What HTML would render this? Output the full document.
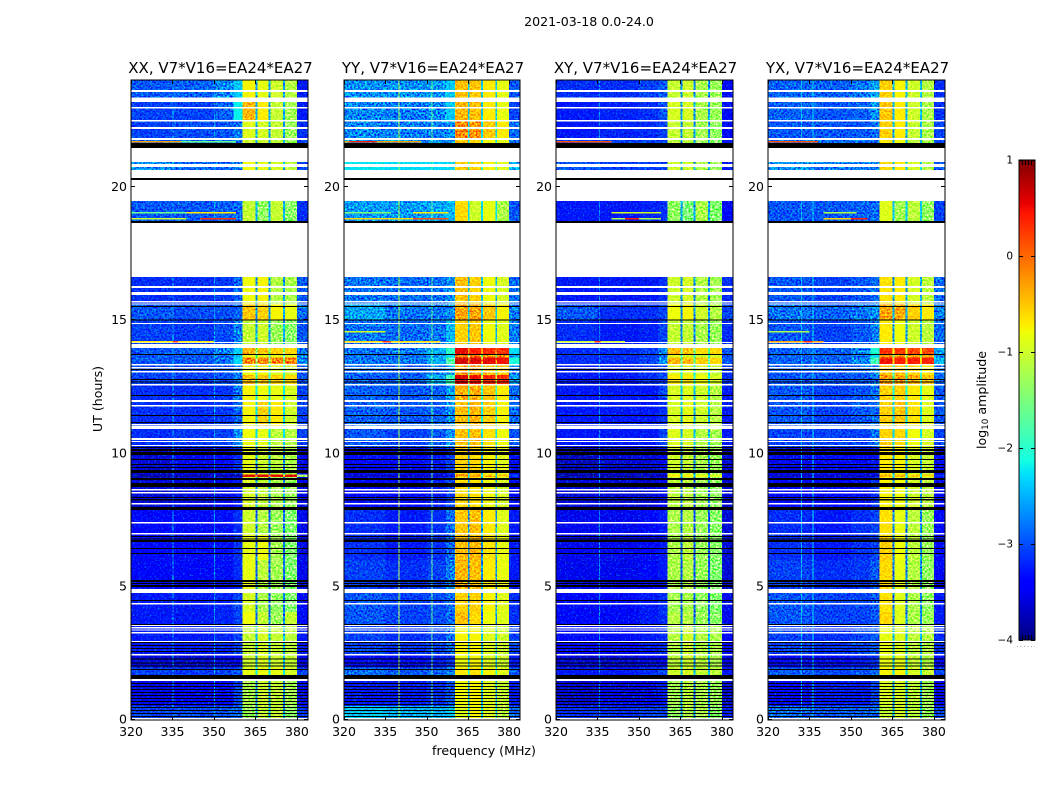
<!DOCTYPE html>
<html>
<head>
<meta charset="utf-8">
<title>2021-03-18 dynamic spectra</title>
<style>
html,body{margin:0;padding:0;background:#fff;}
svg{display:block;}
text{font-family:"DejaVu Sans","Liberation Sans",sans-serif;fill:#000;}
</style>
</head>
<body>
<svg id="chart" xmlns="http://www.w3.org/2000/svg" width="1050" height="800" viewBox="0 0 1050 800">
<defs>
<filter id="grain" x="0" y="0" width="100%" height="100%" color-interpolation-filters="sRGB">
<feTurbulence type="fractalNoise" baseFrequency="0.55" numOctaves="1" seed="7"/>
<feColorMatrix type="matrix" values="2.4 0 0 0 -0.7  2.4 0 0 0 -0.7  2.4 0 0 0 -0.7  0 0 0 0 1"/>
</filter>
<filter id="grain-lift" x="0" y="0" width="100%" height="100%" color-interpolation-filters="sRGB">
<feTurbulence type="fractalNoise" baseFrequency="0.6" numOctaves="1" seed="19"/>
<feColorMatrix type="matrix" values="0 0 0 0 0  1.6 0 0 0 -0.85  0 0 0 0 0  0 0 0 0 1"/>
</filter>
<filter id="grain-dim" x="0" y="0" width="100%" height="100%" color-interpolation-filters="sRGB">
<feTurbulence type="fractalNoise" baseFrequency="0.6" numOctaves="1" seed="31"/>
<feColorMatrix type="matrix" values="0 0 0 0 1  0 0 0 0 1  2.5 0 0 0 0  0 0 0 0 1"/>
</filter>
</defs>
<rect x="0" y="0" width="1050" height="800" fill="#fff"/>
<text x="589" y="26" font-size="12.6" text-anchor="middle">2021-03-18 0.0-24.0</text>
<text x="484" y="755" font-size="12.6" text-anchor="middle">frequency (MHz)</text>
<text x="0" y="0" font-size="12.6" text-anchor="middle" transform="translate(102,399) rotate(-90)">UT (hours)</text>
<text x="0" y="0" font-size="12.6" text-anchor="middle" transform="translate(986,400) rotate(-90)">log<tspan font-size="8.8" dy="2">10</tspan><tspan dy="-2"> amplitude</tspan></text>
<g id="panels"></g>
<g id="colorbar"></g>
</svg>
<script>
// Axis tick labels
const freqTicks = [320, 335, 350, 365, 380];
const utTicks = [0, 5, 10, 15, 20];
const colorTicks = [1, 0, -1, -2, -3, -4];

// Panel titles
const panelTitles = ['XX, V7*V16=EA24*EA27', 'YY, V7*V16=EA24*EA27', 'XY, V7*V16=EA24*EA27', 'YX, V7*V16=EA24*EA27'];

// Frequency columns (MHz)
const columnStart = [320, 335, 350, 357, 360.4, 365.7, 370.5, 375.6];
const columnEnd = [335, 350, 357, 360.4, 365, 369.8, 375, 380];
const notchStart = [365, 369.8, 375];
const notchEnd = [365.7, 370.5, 375.6];
const outerBand = [380, 384];

// Time blocks (hours UT)
const utBlockTop = [24, 23.19, 22.52, 21.84, 20.94, 19.47, 16.62, 15.6, 15, 13.95, 13.7, 13.6, 13.35, 12.94, 12.6, 12, 10.91, 10.2, 9.2, 9.1, 7.87, 6.93, 6, 4.75, 4.04, 3.55, 2.42, 1.95, 1.45, 0.51];
const utBlockBottom = [23.36, 22.52, 21.84, 21.46, 20.64, 18.65, 15.6, 15, 14.1, 13.7, 13.6, 13.35, 12.94, 12.6, 12, 11.02, 10.2, 9.2, 9.1, 7.87, 6.93, 6, 4.9, 4.04, 3.55, 2.42, 1.95, 1.52, 0.51, 0];

// log10 amplitude per time block: 8 columns, then notch, then outer band
const xxLevels = [
[-3.0,-2.95,-2.75,-2.4,-0.75,-0.85,-1.0,-1.15,-2.6,-3.3],
[-3.1,-3.1,-2.95,-2.2,-0.4,-0.7,-1.05,-1.25,-2.5,-3.3],
[-3.1,-3.05,-3.0,-2.85,-0.9,-0.95,-1.05,-1.3,-2.6,-3.2],
[-2.9,-2.9,-2.9,-2.9,-1.0,-1.0,-1.1,-1.3,-2.6,-3.1],
[-2.7,-2.9,-2.9,-2.8,-0.8,-0.85,-0.95,-1.1,-2.5,-3.1],
[-3.0,-3.0,-2.95,-2.9,-1.05,-1.35,-1.05,-1.4,-2.5,-3.2],
[-3.2,-3.2,-3.15,-2.95,-0.8,-0.75,-1.15,-1.2,-2.7,-3.0],
[-3.0,-3.05,-3.05,-2.95,-0.5,-0.55,-0.75,-0.85,-2.6,-2.9],
[-3.1,-3.15,-3.05,-2.8,-1.05,-1.0,-1.3,-1.4,-2.6,-3.0],
[-3.0,-2.95,-2.8,-2.4,-0.4,-0.5,-0.55,-0.6,-1.5,-2.8],
[-3.0,-3.0,-2.85,-2.5,-0.8,-0.8,-0.85,-0.9,-1.8,-2.8],
[-3.0,-3.0,-2.85,-2.3,-0.15,-0.15,-0.15,-0.1,-1.4,-2.7],
[-3.1,-3.1,-3.0,-2.85,-0.8,-0.75,-0.9,-1.0,-2.0,-3.0],
[-3.1,-3.1,-3.05,-2.85,-0.45,-0.5,-0.55,-0.6,-1.9,-3.0],
[-3.2,-3.2,-3.15,-2.85,-0.75,-0.8,-0.85,-0.95,-2.2,-3.1],
[-3.2,-3.2,-3.15,-2.95,-0.75,-0.55,-0.7,-1.0,-2.3,-3.1],
[-3.2,-3.15,-3.1,-2.75,-0.8,-0.85,-1.1,-1.15,-2.3,-3.1],
[-3.6,-3.5,-3.45,-3.2,-0.85,-1.0,-1.1,-1.2,-2.7,-3.5],
[-3.8,-3.8,-3.8,-3.8,0.6,0.6,0.55,0.6,-0.3,-1.3],
[-3.6,-3.55,-3.5,-3.3,-0.95,-1.05,-1.2,-1.3,-2.7,-3.5],
[-3.4,-3.4,-3.35,-3.2,-1.0,-1.15,-1.3,-1.45,-2.9,-3.5],
[-3.4,-3.4,-3.35,-3.2,-0.85,-0.8,-1.25,-1.45,-2.9,-3.5],
[-3.4,-3.4,-3.35,-3.2,-0.85,-1.1,-1.25,-1.45,-2.9,-3.5],
[-3.3,-3.3,-3.25,-3.1,-0.95,-1.2,-1.35,-1.45,-2.9,-3.4],
[-3.3,-3.3,-3.25,-3.1,-0.8,-1.05,-1.3,-1.05,-2.8,-3.4],
[-3.3,-3.3,-3.25,-3.1,-1.05,-0.95,-1.05,-1.1,-2.5,-3.3],
[-3.6,-3.6,-3.5,-3.4,-1.0,-0.9,-1.0,-1.05,-2.5,-3.5],
[-3.1,-3.15,-3.1,-3.0,-0.85,-0.8,-0.85,-0.95,-2.2,-3.1],
[-3.5,-3.45,-3.4,-3.1,-1.2,-1.0,-1.05,-1.25,-2.7,-3.5],
[-3.1,-3.05,-3.0,-2.9,-1.3,-1.05,-1.05,-1.4,-2.6,-3.2]
];
const yyLevels = [
[-2.7,-2.7,-2.65,-2.4,-0.45,-0.5,-0.7,-0.85,-2.4,-3.0],
[-2.75,-2.8,-2.75,-2.4,-0.4,-0.45,-0.7,-0.85,-2.4,-3.1],
[-2.75,-2.8,-2.8,-2.7,-0.15,-0.2,-0.5,-0.7,-2.3,-2.9],
[-2.6,-2.7,-2.7,-2.7,-0.5,-0.6,-0.8,-0.9,-2.3,-2.8],
[-2.25,-2.3,-2.3,-2.3,-0.5,-0.55,-0.75,-0.9,-2.0,-2.6],
[-2.65,-2.65,-2.6,-2.5,-0.6,-1.0,-0.85,-1.2,-2.3,-3.0],
[-2.85,-2.9,-2.9,-2.7,-0.45,-0.55,-0.8,-0.95,-2.5,-2.9],
[-2.6,-2.85,-2.85,-2.7,-0.3,-0.3,-0.5,-0.75,-2.4,-2.8],
[-2.85,-2.9,-2.85,-2.5,-0.55,-0.5,-0.8,-0.9,-2.5,-2.8],
[-2.85,-2.8,-2.55,-2.0,0.55,0.45,0.4,0.35,-0.3,-2.3],
[-2.85,-2.85,-2.65,-2.3,-0.1,-0.1,-0.2,-0.2,-1.5,-2.6],
[-2.85,-2.85,-2.55,-1.8,0.65,0.6,0.55,0.5,-0.1,-2.1],
[-2.9,-3.0,-2.85,-2.6,-0.3,-0.3,-0.45,-0.5,-1.8,-2.8],
[-2.95,-2.95,-2.55,-1.9,0.6,0.5,0.4,0.35,-1.0,-2.6],
[-2.95,-3.0,-2.95,-2.6,-0.35,-0.35,-0.5,-0.7,-2.0,-2.9],
[-2.95,-3.0,-2.95,-2.7,-0.45,-0.4,-0.55,-0.75,-2.2,-2.9],
[-3.0,-3.1,-3.0,-2.7,-0.45,-0.45,-0.65,-0.8,-2.3,-3.0],
[-3.4,-3.4,-3.3,-3.1,-0.55,-0.6,-0.75,-0.9,-2.6,-3.4],
[-3.7,-3.7,-3.7,-3.6,-0.3,-0.3,-0.4,-0.5,-2.0,-3.1],
[-3.4,-3.4,-3.3,-3.1,-0.6,-0.65,-0.8,-0.95,-2.6,-3.4],
[-3.2,-3.3,-3.2,-2.9,-0.5,-0.45,-0.7,-0.9,-2.7,-3.3],
[-3.2,-3.3,-3.2,-2.9,-0.45,-0.4,-0.65,-0.85,-2.7,-3.3],
[-3.1,-3.2,-3.1,-2.8,-0.4,-0.45,-0.7,-0.85,-2.7,-3.3],
[-3.0,-3.1,-3.05,-2.9,-0.55,-0.55,-0.75,-0.9,-2.7,-3.2],
[-3.0,-3.1,-3.05,-2.9,-0.45,-0.6,-0.8,-0.9,-2.7,-3.2],
[-3.1,-3.2,-3.1,-2.9,-0.75,-0.75,-0.9,-1.0,-2.4,-3.1],
[-3.4,-3.4,-3.3,-3.2,-0.8,-0.75,-0.9,-1.0,-2.4,-3.3],
[-2.9,-3.0,-2.95,-2.8,-0.7,-0.65,-0.75,-0.9,-2.1,-3.0],
[-3.3,-3.3,-3.2,-3.0,-0.8,-0.75,-0.9,-1.05,-2.5,-3.3],
[-2.4,-2.5,-2.5,-2.4,-0.9,-0.75,-0.9,-1.1,-2.3,-2.9]
];
const xyLevels = [
[-3.2,-3.2,-3.1,-3.0,-1.05,-1.0,-1.2,-1.3,-2.7,-3.4],
[-3.3,-3.25,-3.2,-3.0,-0.95,-0.95,-1.2,-1.3,-2.7,-3.4],
[-3.3,-3.25,-3.2,-3.1,-1.05,-1.05,-1.25,-1.35,-2.7,-3.4],
[-3.1,-3.1,-3.1,-3.1,-1.1,-1.1,-1.3,-1.4,-2.7,-3.3],
[-3.0,-3.1,-3.1,-3.1,-1.0,-1.0,-1.2,-1.3,-2.6,-3.3],
[-3.3,-3.3,-3.25,-3.2,-1.35,-1.5,-1.2,-1.45,-2.6,-3.4],
[-3.3,-3.3,-3.3,-3.2,-1.0,-0.95,-1.15,-1.25,-2.8,-3.2],
[-3.0,-3.2,-3.2,-3.1,-0.8,-0.75,-1.0,-1.15,-2.7,-3.1],
[-3.2,-3.3,-3.25,-3.1,-1.05,-1.05,-1.2,-1.3,-2.8,-3.2],
[-3.2,-3.2,-3.1,-2.8,-0.45,-0.5,-0.6,-0.6,-1.7,-3.0],
[-3.2,-3.2,-3.1,-2.9,-0.9,-0.9,-1.0,-1.0,-2.0,-3.1],
[-3.2,-3.2,-3.1,-2.7,-0.4,-0.45,-0.55,-0.6,-1.7,-3.0],
[-3.3,-3.3,-3.2,-3.1,-0.9,-0.85,-0.95,-1.05,-2.2,-3.2],
[-3.3,-3.3,-3.2,-3.1,-0.7,-0.7,-0.8,-0.95,-2.1,-3.2],
[-3.3,-3.3,-3.3,-3.1,-0.95,-0.9,-1.0,-1.15,-2.4,-3.3],
[-3.3,-3.3,-3.3,-3.2,-0.95,-0.85,-1.0,-1.15,-2.5,-3.3],
[-3.3,-3.3,-3.3,-3.1,-0.9,-0.95,-1.15,-1.25,-2.5,-3.3],
[-3.7,-3.6,-3.6,-3.5,-1.0,-1.05,-1.2,-1.3,-2.8,-3.6],
[-3.8,-3.8,-3.8,-3.8,-0.7,-0.7,-0.8,-0.9,-2.4,-3.5],
[-3.6,-3.6,-3.6,-3.5,-1.1,-1.1,-1.25,-1.35,-2.9,-3.6],
[-3.5,-3.5,-3.4,-3.3,-1.2,-1.15,-1.3,-1.4,-3.0,-3.6],
[-3.5,-3.5,-3.4,-3.3,-1.2,-1.1,-1.3,-1.4,-3.0,-3.6],
[-3.5,-3.5,-3.4,-3.3,-1.2,-1.15,-1.3,-1.45,-3.0,-3.6],
[-3.4,-3.4,-3.3,-3.2,-1.25,-1.2,-1.35,-1.45,-3.0,-3.5],
[-3.4,-3.4,-3.3,-3.2,-1.15,-1.15,-1.3,-1.4,-2.9,-3.5],
[-3.4,-3.4,-3.3,-3.2,-1.15,-1.0,-1.15,-1.2,-2.6,-3.4],
[-3.6,-3.6,-3.5,-3.4,-1.1,-1.0,-1.1,-1.2,-2.6,-3.5],
[-3.3,-3.3,-3.2,-3.1,-1.0,-0.95,-1.05,-1.1,-2.4,-3.3],
[-3.6,-3.5,-3.5,-3.3,-1.25,-1.1,-1.2,-1.3,-2.8,-3.6],
[-3.2,-3.2,-3.1,-3.1,-1.35,-1.15,-1.2,-1.4,-2.7,-3.3]
];
const yxLevels = [
[-2.95,-2.95,-2.85,-2.6,-0.55,-0.75,-1.0,-1.15,-2.5,-3.2],
[-2.95,-3.0,-2.95,-2.7,-0.5,-0.7,-1.0,-1.2,-2.5,-3.2],
[-3.0,-3.0,-3.0,-2.9,-0.55,-0.7,-1.05,-1.2,-2.5,-3.1],
[-2.9,-2.9,-2.9,-2.9,-0.7,-0.8,-1.1,-1.25,-2.5,-3.1],
[-2.7,-2.8,-2.8,-2.8,-0.6,-0.7,-0.95,-1.15,-2.4,-3.0],
[-3.0,-3.0,-2.95,-2.9,-0.9,-1.25,-1.1,-1.35,-2.4,-3.1],
[-3.0,-3.1,-3.0,-2.9,-0.65,-0.7,-0.95,-1.1,-2.6,-2.9],
[-2.85,-2.95,-2.85,-2.7,-0.3,-0.35,-0.55,-0.7,-2.5,-2.8],
[-3.0,-3.1,-3.0,-2.8,-0.7,-0.8,-1.0,-1.1,-2.6,-2.9],
[-2.95,-2.95,-2.75,-2.1,0.35,0.3,0.25,0.2,-0.8,-2.6],
[-2.95,-2.95,-2.85,-2.3,-0.3,-0.3,-0.3,-0.35,-1.5,-2.7],
[-2.95,-2.95,-2.75,-1.9,0.5,0.45,0.45,0.4,-0.6,-2.5],
[-3.0,-3.0,-2.95,-2.7,-0.5,-0.5,-0.6,-0.7,-2.0,-2.9],
[-3.0,-3.0,-3.0,-2.85,-0.25,-0.25,-0.35,-0.45,-1.9,-2.9],
[-3.0,-3.1,-3.0,-2.85,-0.55,-0.55,-0.7,-0.85,-2.1,-3.0],
[-3.0,-3.1,-3.0,-2.9,-0.55,-0.5,-0.65,-0.9,-2.3,-3.0],
[-3.1,-3.1,-3.1,-2.85,-0.55,-0.6,-0.8,-0.95,-2.3,-3.1],
[-3.5,-3.4,-3.4,-3.3,-0.7,-0.75,-0.95,-1.05,-2.6,-3.4],
[-3.7,-3.7,-3.7,-3.7,-0.4,-0.4,-0.5,-0.6,-2.1,-3.2],
[-3.4,-3.4,-3.4,-3.2,-0.75,-0.8,-1.0,-1.1,-2.7,-3.4],
[-3.2,-3.3,-3.2,-3.1,-0.65,-0.85,-1.1,-1.3,-2.8,-3.4],
[-3.2,-3.3,-3.2,-3.1,-0.55,-0.8,-1.1,-1.3,-2.8,-3.4],
[-3.1,-3.2,-3.15,-3.0,-0.6,-0.85,-1.15,-1.35,-2.8,-3.4],
[-3.0,-3.1,-3.1,-3.0,-0.65,-0.9,-1.2,-1.35,-2.8,-3.3],
[-3.0,-3.1,-3.1,-3.0,-0.6,-0.9,-1.2,-1.3,-2.8,-3.3],
[-3.1,-3.2,-3.1,-3.0,-0.85,-0.9,-1.1,-1.15,-2.5,-3.2],
[-3.4,-3.4,-3.3,-3.2,-0.85,-0.85,-1.05,-1.15,-2.5,-3.4],
[-3.0,-3.1,-3.0,-2.9,-0.75,-0.75,-0.95,-1.05,-2.3,-3.1],
[-3.4,-3.3,-3.3,-3.1,-0.95,-0.95,-1.1,-1.25,-2.6,-3.4],
[-2.9,-3.0,-2.95,-2.85,-1.05,-0.95,-1.1,-1.3,-2.6,-3.1]
];

// Narrow interference channels: frequency (MHz) and log10 amplitude
const xxRfiFreq = [335, 350];
const xxRfiLevel = [-2.7, -2.7];
const yyRfiFreq = [339.9, 351.8];
const yyRfiLevel = [-1.2, -1.7];
const xyRfiFreq = [335.5];
const xyRfiLevel = [-2.8];
const yxRfiFreq = [332, 336];
const yxRfiLevel = [-2.5, -2.3];

// Horizontal interference streaks: [UT hour, from MHz, to MHz, log10 amplitude]
const xxStreaks = [[21.72,320,338,-0.3],[21.72,338,358,-1.6],[19.06,320,340,-1.6],[19.06,340,358,-0.7],[18.84,320,340,-1.0],[18.84,345,358,0.3],[14.21,320,350,-0.7],[14.21,335,337,0.2]];
const yyStreaks = [[21.72,320,348,-0.3],[21.72,322,332,0.4],[19.06,320,337,-1.5],[19.06,345,358,-0.7],[18.84,320,345,-0.6],[18.84,345,358,0.1],[14.59,320,335,-1.0],[14.21,320,355,-0.6],[14.21,334,337,0.3]];
const xyStreaks = [[21.72,320,340,0.1],[19.06,340,358,-1.0],[18.84,340,358,-1.2],[18.84,345,350,0.4],[14.21,320,345,-1.0],[14.21,334,336,0.3]];
const yxStreaks = [[21.72,320,338,0.1],[19.06,340,352,-1.2],[18.84,340,352,-0.6],[18.84,350,356,0.4],[14.59,320,335,-1.2],[14.21,320,340,-0.3],[14.21,333,336,0.3]];

// Times with no data (white), top then bottom hour
const gapTop = [23.64,23.36,23,22.52,22.25,21.84,21.46,20.86,20.64,20.26,18.65,16.28,16.06,15.72,15.62,14.89,14.18,14.1,13.35,13.24,13.09,12.6,12,11.81,11.1,11.02,10.57,10.46,10.31,8.66,8.54,8.13,7.42,7,4.9,4.38,3.55,3.47,3.38,3.29,2.95,2.46,1.52,0.06];
const gapBottom = [23.57,23.19,22.95,22.46,22.18,21.76,20.94,20.75,20.34,19.47,16.62,16.21,15.94,15.66,15.59,14.85,14.14,13.95,13.3,13.18,13.03,12.54,11.93,11.76,11.04,10.91,10.5,10.42,10.27,8.6,8.49,8.08,7.36,6.95,4.75,4.32,3.51,3.42,3.34,3.23,2.91,2.4,1.45,0];

// Times with flagged (black) samples, top then bottom hour
const flagTop = [21.65,20.34,18.73,15.54,15.02,13.73,13.16,12.79,12.69,12.19,11.44,11.17,10.24,10.16,10.05,9.78,9.6,9.48,9.37,9.07,8.88,8.36,8.28,7.98,6.89,6.8,6.74,6.44,6.25,5.24,5.13,5.05,4.49,3.59,2.91,2.8,2.68,2.57,2.3,2.15,2.03,1.9,1.67,1.37,1.26,1.15,1.03,0.92,0.81,0.69,0.58,0.47,0.36,0.24,0.13];
const flagBottom = [21.46,20.26,18.65,15.51,14.98,13.69,13.13,12.75,12.66,12.15,11.4,11.14,10.2,10.08,9.93,9.75,9.56,9.45,9.26,9,8.73,8.32,8.23,7.87,6.85,6.76,6.67,6.4,6.22,5.17,5.09,4.98,4.45,3.55,2.87,2.76,2.65,2.53,2.26,2.11,1.99,1.86,1.52,1.33,1.22,1.11,0.99,0.88,0.77,0.65,0.54,0.43,0.32,0.2,0.09];

const levelTables = [xxLevels, yyLevels, xyLevels, yxLevels];
const rfiFreqs = [xxRfiFreq, yyRfiFreq, xyRfiFreq, yxRfiFreq];
const rfiLevels = [xxRfiLevel, yyRfiLevel, xyRfiLevel, yxRfiLevel];
const streakTables = [xxStreaks, yyStreaks, xyStreaks, yxStreaks];

const SVG_NS = 'http://www.w3.org/2000/svg';
const panelLeft = [131, 344, 556, 768];
const panelRight = [308, 520, 733, 945];
const plotTop = 80;
const plotBottom = 720;

function xScale(panel, mhz) {
  return panelLeft[panel] + (mhz - 320) * (panelRight[panel] - panelLeft[panel]) / 64;
}
function yScale(hour) {
  return 719.5 - hour * 639 / 24;
}
function cbScale(level) {
  return 256 - level * 96;
}
function lerp(x, pts) {
  if (x <= pts[0][0]) return pts[0][1];
  for (let i = 1; i < pts.length; i++) {
    if (x <= pts[i][0]) {
      const a = pts[i - 1], b = pts[i];
      return a[1] + (b[1] - a[1]) * (x - a[0]) / (b[0] - a[0]);
    }
  }
  return pts[pts.length - 1][1];
}
function jet(level) {
  const t = Math.max(0, Math.min(1, (level + 4) / 5));
  const r = lerp(t, [[0.35, 0], [0.66, 1], [0.89, 1], [1, 0.5]]);
  const g = lerp(t, [[0.125, 0], [0.375, 1], [0.64, 1], [0.91, 0], [1, 0]]);
  const b = lerp(t, [[0, 0.5], [0.11, 1], [0.34, 1], [0.65, 0], [1, 0]]);
  return 'rgb(' + Math.round(r * 255) + ',' + Math.round(g * 255) + ',' + Math.round(b * 255) + ')';
}
function makeRect(parent, x, y, w, h, fill) {
  const el = document.createElementNS(SVG_NS, 'rect');
  el.setAttribute('x', x.toFixed(2));
  el.setAttribute('y', y.toFixed(2));
  el.setAttribute('width', Math.max(w, 0).toFixed(2));
  el.setAttribute('height', Math.max(h, 0).toFixed(2));
  el.setAttribute('fill', fill);
  el.setAttribute('shape-rendering', 'crispEdges');
  parent.appendChild(el);
  return el;
}
function makeLine(parent, x1, y1, x2, y2, stroke) {
  const el = document.createElementNS(SVG_NS, 'line');
  el.setAttribute('x1', x1);
  el.setAttribute('y1', y1);
  el.setAttribute('x2', x2);
  el.setAttribute('y2', y2);
  el.setAttribute('stroke', stroke);
  el.setAttribute('stroke-width', '1');
  parent.appendChild(el);
  return el;
}
function makeText(parent, x, y, size, anchor, content) {
  const el = document.createElementNS(SVG_NS, 'text');
  el.setAttribute('x', x);
  el.setAttribute('y', y);
  el.setAttribute('font-size', size);
  el.setAttribute('text-anchor', anchor);
  el.textContent = content;
  parent.appendChild(el);
  return el;
}

const panelsRoot = document.getElementById('panels');
panelTitles.forEach(function (title, p) {
  const g = document.createElementNS(SVG_NS, 'g');
  
  
  panelsRoot.appendChild(g);

  const heat = document.createElementNS(SVG_NS, 'g');
  
  
  heat.style.isolation = 'isolate';
  g.appendChild(heat);

  const table = levelTables[p];
  table.forEach(function (row, b) {
    const y0 = yScale(utBlockTop[b]);
    const y1 = yScale(utBlockBottom[b]);
    columnStart.forEach(function (f0, c) {
      const x0 = xScale(p, f0);
      const x1 = xScale(p, columnEnd[c]);
      const cell = makeRect(heat, x0, y0, x1 - x0, y1 - y0, jet(row[c]));
      
      
    });
    notchStart.forEach(function (f0, n) {
      const x0 = xScale(p, f0);
      const x1 = xScale(p, notchEnd[n]);
      const cell = makeRect(heat, x0, y0, x1 - x0, y1 - y0, jet(row[8]));
      
      
    });
    const xo0 = xScale(p, outerBand[0]);
    const xo1 = xScale(p, outerBand[1]);
    const outer = makeRect(heat, xo0, y0, xo1 - xo0, y1 - y0, jet(row[9]));
    
    
  });

  rfiFreqs[p].forEach(function (f, i) {
    const line = makeRect(heat, xScale(p, f), plotTop, 1, plotBottom - plotTop, jet(rfiLevels[p][i]));
    
    
  });

  // Decorative receiver-noise grain; not a data mark
  const grain = makeRect(heat, panelLeft[p], plotTop, panelRight[p] - panelLeft[p], plotBottom - plotTop, '#808080');
  grain.setAttribute('filter', 'url(#grain)');
  grain.style.mixBlendMode = 'overlay';
  
  

  const lift = makeRect(heat, panelLeft[p], plotTop, panelRight[p] - panelLeft[p], plotBottom - plotTop, '#000');
  lift.setAttribute('filter', 'url(#grain-lift)');
  lift.style.mixBlendMode = 'screen';
  
  

  const dim = makeRect(heat, panelLeft[p], plotTop, panelRight[p] - panelLeft[p], plotBottom - plotTop, '#fff');
  dim.setAttribute('filter', 'url(#grain-dim)');
  dim.style.mixBlendMode = 'multiply';
  
  

  flagTop.forEach(function (t, i) {
    const y0 = yScale(t);
    const y1 = yScale(flagBottom[i]);
    const flag = makeRect(heat, panelLeft[p], y0, panelRight[p] - panelLeft[p], Math.max(y1 - y0, 1), '#000');
    
    
  });
  gapTop.forEach(function (t, i) {
    const y0 = yScale(t);
    const y1 = yScale(gapBottom[i]);
    const gap = makeRect(heat, panelLeft[p], y0, panelRight[p] - panelLeft[p], Math.max(y1 - y0, 1), '#fff');
    
    
  });
  streakTables[p].forEach(function (s) {
    const x0 = xScale(p, s[1]);
    const x1 = xScale(p, s[2]);
    const streak = makeRect(heat, x0, yScale(s[0]), x1 - x0, 1.5, jet(s[3]));
    
    
  });

  const frame = makeRect(g, panelLeft[p], plotTop, panelRight[p] - panelLeft[p], plotBottom - plotTop, 'none');
  frame.setAttribute('stroke', '#000');
  frame.setAttribute('stroke-width', '1');
  frame.setAttribute('shape-rendering', 'auto');
  
  

  freqTicks.forEach(function (f) {
    const x = Math.round(xScale(p, f)) + 0.5;
    const tb = makeLine(g, x, plotBottom, x, plotBottom - 4, '#000');
    
    
    const tt = makeLine(g, x, plotTop, x, plotTop + 4, '#000');
    
    
    const lab = makeText(g, xScale(p, f), 736, 12.5, 'middle', String(f));
    
    
  });
  utTicks.forEach(function (u) {
    const y = Math.round(yScale(u)) - 0.5;
    const tl = makeLine(g, panelLeft[p], y, panelLeft[p] + 4, y, '#000');
    
    
    const tr = makeLine(g, panelRight[p], y, panelRight[p] - 4, y, '#000');
    
    
    const lab = makeText(g, panelLeft[p] - 4, yScale(u) + 4, 12.5, 'end', String(u));
    
    
  });
  const t = makeText(g, (panelLeft[p] + panelRight[p]) / 2 + 1, 73, 15, 'middle', title);
  
  
});

// Colorbar
const cb = document.getElementById('colorbar');
for (let lv = -4; lv < 1; lv += 0.0125) {
  const seg = makeRect(cb, 1019, cbScale(lv + 0.0125), 16, 1.3, jet(lv + 0.00625));
  
  
}
const cbFrame = makeRect(cb, 1019, 160, 16, 480, 'none');
cbFrame.setAttribute('stroke', '#000');
cbFrame.setAttribute('stroke-width', '1');
cbFrame.setAttribute('shape-rendering', 'auto');


colorTicks.forEach(function (v) {
  const y = Math.round(cbScale(v)) + 0.5;
  const a = makeLine(cb, 1019, y, 1023, y, '#000');
  
  
  const c = makeLine(cb, 1035, y, 1031, y, '#000');
  
  
  const lab = makeText(cb, 1013, cbScale(v) + 3.5, 10.5, 'end', v < 0 ? '\u2212' + Math.abs(v) : String(v));
  
  
});
[1022.5, 1025.5, 1028.5, 1031.5].forEach(function (x) {
  const a = makeLine(cb, x, 160, x, 165, '#000');
  
  
  const c = makeLine(cb, x, 640, x, 635, '#000');
  
  
});
const dots = makeLine(cb, 1017, 646.5, 1035, 646.5, '#aaa');
dots.setAttribute('stroke-dasharray', '1 2.5');


</script>
</body>
</html>
